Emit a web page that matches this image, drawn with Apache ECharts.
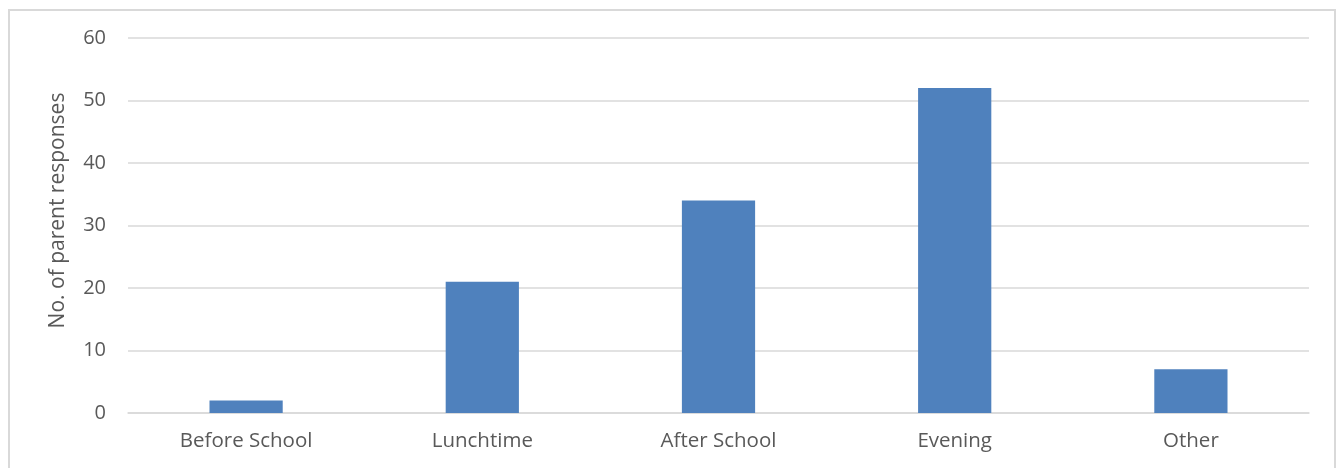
<!DOCTYPE html>
<html><head><meta charset="utf-8">
<script src="https://cdn.jsdelivr.net/npm/echarts@6/dist/echarts.min.js"></script>
<style>
html,body{margin:0;padding:0;background:#fff;}
#frame{position:absolute;left:8px;top:9px;width:1328px;height:470px;border:2px solid #d9d9d9;box-sizing:border-box;}
#chart{position:absolute;left:0;top:0;width:1344px;height:468px;}
</style></head>
<body>
<div id="frame"></div>
<div id="chart"></div>
<script>
const categories = ['Before School', 'Lunchtime', 'After School', 'Evening', 'Other'];
const responses = [2, 21, 34, 52, 7];
const yTicks = [0, 10, 20, 30, 40, 50, 60];

const chart = echarts.init(document.getElementById('chart'), null, {renderer: 'canvas'});
chart.setOption({
  animation: false,
  backgroundColor: 'transparent',
  grid: {left: 128, right: 35, top: 38, bottom: 55, containLabel: false},
  xAxis: {
    type: 'category',
    data: categories,
    axisLine: {lineStyle: {color: '#d9d9d9', width: 1.5}},
    axisTick: {show: false},
    axisLabel: {color: '#595959', fontSize: 20.5, fontFamily: 'Open Sans', margin: 18}
  },
  yAxis: {
    type: 'value',
    min: yTicks[0], max: yTicks[yTicks.length - 1], interval: 10,
    name: 'No. of parent responses',
    nameLocation: 'middle',
    nameGap: 59,
    nameTextStyle: {color: '#595959', fontSize: 21, fontFamily: 'Open Sans', padding: [0, 0, 0, 30]},
    axisLine: {show: false},
    axisTick: {show: false},
    splitLine: {lineStyle: {color: '#d9d9d9', width: 1.5}},
    axisLabel: {color: '#595959', fontSize: 20, fontFamily: 'Open Sans', margin: 22}
  },
  series: [{
    type: 'bar',
    data: responses,
    barWidth: '31%',
    itemStyle: {color: '#4f81bd'}
  }]
});
</script>
</body></html>
